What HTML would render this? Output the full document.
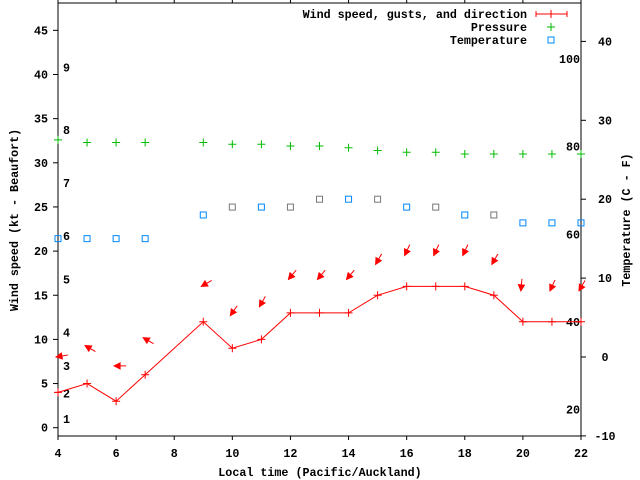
<!DOCTYPE html>
<html><head><meta charset="utf-8"><style>
html,body{margin:0;padding:0;background:#fff}
svg{display:block}
text{font-family:"Liberation Mono",monospace;font-weight:bold;font-size:11.7px;fill:#000}
</style></head><body>
<svg id="chart" width="640" height="480" viewBox="0 0 640 480" xmlns="http://www.w3.org/2000/svg">
<g id="axes"></g><g id="marks"></g>
</svg>
<script>
const hours = [4,5,6,7,9,10,11,12,13,14,15,16,17,18,19,20,21,22];
const windSpeed = [4,5,3,6,12,9,10,13,13,13,15,16,16,16,15,12,12,12];
const arrowPos = [8,9.3,7,10.2,16,12.7,13.7,16.8,16.8,16.8,18.5,19.5,19.5,19.5,18.5,15.5,15.5,15.5];
const windDir = [80,120,90,120,60,35,30,40,40,40,30,25,25,25,30,5,25,30];
const pressure = [32.6,32.3,32.3,32.3,32.3,32.1,32.1,31.9,31.9,31.7,31.4,31.2,31.2,31.0,31.0,31.0,31.0,31.0];
const tempHours = [4,5,6,7,9,10,11,12,13,14,15,16,17,18,19,20,21,22];
const temps = [15,15,15,15,18,19,19,19,20,20,20,19,19,18,18,17,17,17];
const tempGray = [0,0,0,0,0,1,0,1,1,0,1,0,1,0,1,0,0,0];
const xTicks = [4,6,8,10,12,14,16,18,20,22];
const yTicks = [0,5,10,15,20,25,30,35,40,45];
const y2Ticks = [-10,0,10,20,30,40];
const fTicks = [20,40,60,80,100];
const beaufort = [1,2,3,4,5,6,7,8,9];
const beaufortKt = [1,3.9,7,10.8,16.8,21.7,27.7,33.7,40.8];

const L=58,R=581,T=3,B=436;
const X=h=>L+(h-4)*(R-L)/18;
const Y=v=>427.7-v*8.83;
const Y2=c=>357-c*7.89;
const YF=f=>Y2((f-32)*5/9);
const NS="http://www.w3.org/2000/svg";
const axes=document.getElementById('axes'), marks=document.getElementById('marks');
function mk(tag,attrs,parent,txt){const e=document.createElementNS(NS,tag);for(const k in attrs)e.setAttribute(k,attrs[k]);if(txt!==undefined)e.textContent=txt;parent.appendChild(e);return e;}

let e=mk('rect',{x:L,y:T,width:R-L,height:B-T,fill:'none',stroke:'#000','stroke-width':1},axes);


xTicks.forEach(t=>{
  mk('line',{x1:X(t),x2:X(t),y1:B,y2:B+4,stroke:'#000'},axes);
  mk('line',{x1:X(t),x2:X(t),y1:0,y2:T,stroke:'#000'},axes);
  e=mk('text',{x:X(t),y:457,'text-anchor':'middle'},axes,String(t));
  
  
});
yTicks.forEach(t=>{
  mk('line',{x1:L-5,x2:L,y1:Y(t),y2:Y(t),stroke:'#000'},axes);
  e=mk('text',{x:48,y:Y(t)+4,'text-anchor':'end'},axes,String(t));
  
  
});
y2Ticks.forEach(t=>{
  mk('line',{x1:R,x2:R+5,y1:Y2(t),y2:Y2(t),stroke:'#000'},axes);
  e=mk('text',{x:605,y:Y2(t)+4,'text-anchor':'middle'},axes,String(t));
  
  
});
fTicks.forEach(t=>{
  e=mk('text',{x:580,y:YF(t)+4,'text-anchor':'end'},axes,String(t));
  
  
});
beaufort.forEach((b,i)=>{
  e=mk('text',{x:63,y:Y(beaufortKt[i])+4},axes,String(b));
  
  
});
e=mk('text',{x:320,y:476,'text-anchor':'middle'},axes,'Local time (Pacific/Auckland)');


e=mk('text',{x:18,y:220,'text-anchor':'middle',transform:'rotate(-90 18 220)'},axes,'Wind speed (kt - Beaufort)');


e=mk('text',{x:630,y:220,'text-anchor':'middle',transform:'rotate(-90 630 220)'},axes,'Temperature (C - F)');



let d='M'+(X(4)-3)+','+Y(windSpeed[0]);
hours.forEach((h,i)=>{d+=' L'+X(h)+','+Y(windSpeed[i]);});
e=mk('path',{d:d,fill:'none',stroke:'#f00','stroke-width':1},marks);


hours.forEach((h,i)=>{
  const x=X(h),y=Y(windSpeed[i]);
  e=mk('path',{d:`M${x-4},${y}H${x+4}M${x},${y-4}V${y+4}`,stroke:'#f00','stroke-width':1},marks);
  
  
  const a=windDir[i]*Math.PI/180;
  const hx=x-2,hy=Y(arrowPos[i]);
  const tx=hx+12*Math.sin(a),ty=hy-12*Math.cos(a);
  const ux=Math.sin(a),uy=-Math.cos(a);
  const px=-uy,py=ux;
  const g=mk('g',{},marks);
  
  
  mk('line',{x1:hx,y1:hy,x2:tx,y2:ty,stroke:'#f00','stroke-width':1},g);
  mk('polygon',{points:`${hx},${hy} ${hx+6*ux+3*px},${hy+6*uy+3*py} ${hx+6*ux-3*px},${hy+6*uy-3*py}`,fill:'#f00',stroke:'#f00'},g);
});
hours.forEach((h,i)=>{
  const x=X(h),y=Y(pressure[i]);
  e=mk('path',{d:`M${x-4},${y}H${x+4}M${x},${y-4}V${y+4}`,stroke:'#0b0','stroke-width':1},marks);
  
  
});
tempHours.forEach((h,i)=>{
  const x=X(h),y=Y2(temps[i]);
  e=mk('rect',{x:x-3,y:y-3,width:6,height:6,fill:'none',stroke:tempGray[i]?'#777':'#08f','stroke-width':1},marks);
  
  
});
const lg=mk('g',{},marks);


mk('text',{x:527,y:18,'text-anchor':'end'},lg,'Wind speed, gusts, and direction');
mk('text',{x:527,y:31,'text-anchor':'end'},lg,'Pressure');
mk('text',{x:527,y:44,'text-anchor':'end'},lg,'Temperature');
mk('path',{d:'M536,14H567M536,11V17M567,11V17M551,10V18',stroke:'#f00'},lg);
mk('path',{d:'M547,27H555M551,23V31',stroke:'#0b0'},lg);
mk('rect',{x:548,y:37,width:6,height:6,fill:'none',stroke:'#08f'},lg);
</script>
</body></html>
